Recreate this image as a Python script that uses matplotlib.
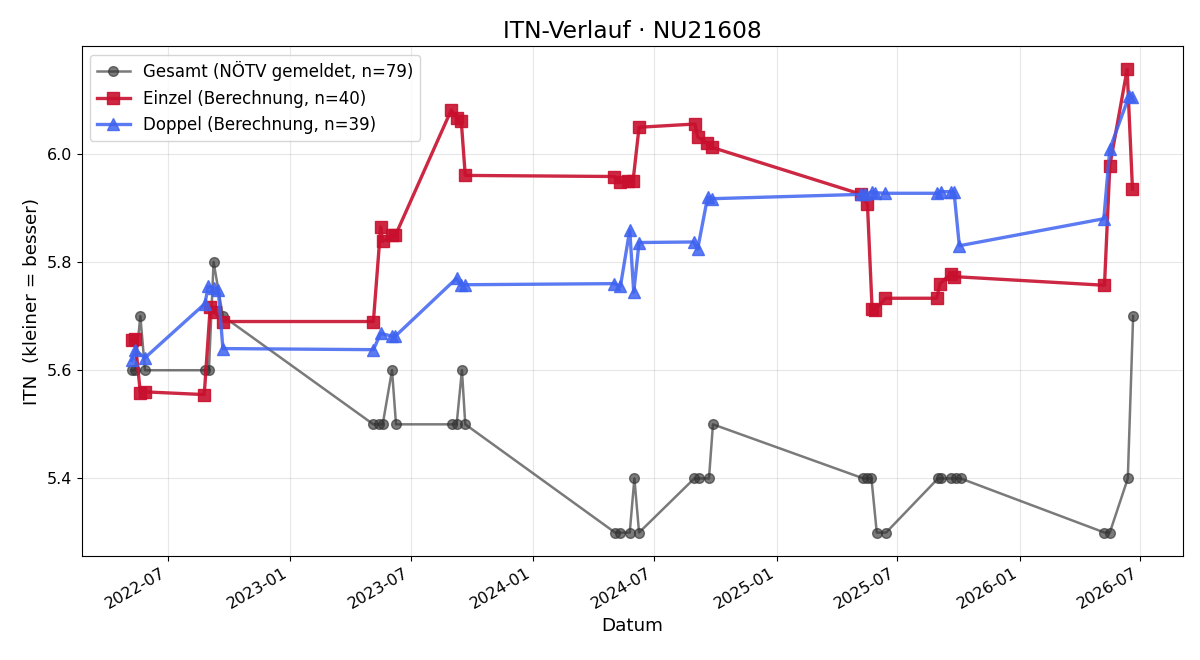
import matplotlib
matplotlib.use('Agg')
import matplotlib.pyplot as plt
import matplotlib.dates as mdates
import pandas as pd

# Gesamt (NÖTV gemeldet)
gesamt_dates = [
    '2022-05-08', '2022-05-13', '2022-05-21', '2022-05-28',
    '2022-08-26', '2022-09-01', '2022-09-08', '2022-09-22',
    '2023-05-06', '2023-05-15', '2023-05-20', '2023-06-03', '2023-06-09',
    '2023-09-01', '2023-09-08', '2023-09-16', '2023-09-21',
    '2024-05-03', '2024-05-11', '2024-05-25', '2024-06-01', '2024-06-08',
    '2024-08-30', '2024-09-06', '2024-09-21', '2024-09-27',
    '2025-05-11', '2025-05-17', '2025-05-23', '2025-05-31', '2025-06-14',
    '2025-08-31', '2025-09-05', '2025-09-20', '2025-09-27', '2025-10-04',
    '2026-05-08', '2026-05-16', '2026-06-12', '2026-06-20',
]
gesamt_itn = [
    5.6, 5.6, 5.7, 5.6,
    5.6, 5.6, 5.8, 5.7,
    5.5, 5.5, 5.5, 5.6, 5.5,
    5.5, 5.5, 5.6, 5.5,
    5.3, 5.3, 5.3, 5.4, 5.3,
    5.4, 5.4, 5.4, 5.5,
    5.4, 5.4, 5.4, 5.3, 5.3,
    5.4, 5.4, 5.4, 5.4, 5.4,
    5.3, 5.3, 5.4, 5.7,
]

# Einzel (Berechnung)
einzel_dates = [
    '2022-05-08', '2022-05-13', '2022-05-21', '2022-05-28',
    '2022-08-25', '2022-09-03', '2022-09-10', '2022-09-22',
    '2023-05-06', '2023-05-17', '2023-05-20', '2023-06-03', '2023-06-08',
    '2023-08-31', '2023-09-08', '2023-09-15', '2023-09-21',
    '2024-05-02', '2024-05-11', '2024-05-23', '2024-05-30', '2024-06-08',
    '2024-08-31', '2024-09-04', '2024-09-18', '2024-09-25',
    '2025-05-08', '2025-05-17', '2025-05-24', '2025-05-29', '2025-06-13',
    '2025-08-29', '2025-09-03', '2025-09-19', '2025-09-24',
    '2026-05-08', '2026-05-16', '2026-06-11', '2026-06-19',
]
einzel_itn = [
    5.655, 5.658, 5.558, 5.560,
    5.555, 5.717, 5.707, 5.690,
    5.690, 5.865, 5.838, 5.849, 5.849,
    6.081, 6.067, 6.060, 5.960,
    5.958, 5.947, 5.950, 5.950, 6.049,
    6.055, 6.031, 6.020, 6.012,
    5.925, 5.907, 5.713, 5.712, 5.733,
    5.733, 5.760, 5.778, 5.773,
    5.757, 5.978, 6.156, 5.935,
]

# Doppel (Berechnung)
doppel_dates = [
    '2022-05-08', '2022-05-13', '2022-05-28',
    '2022-08-26', '2022-08-31', '2022-09-08', '2022-09-15', '2022-09-22',
    '2023-05-06', '2023-05-17', '2023-06-03', '2023-06-08',
    '2023-09-08', '2023-09-14', '2023-09-21',
    '2024-05-02', '2024-05-11', '2024-05-25', '2024-05-31', '2024-06-08',
    '2024-08-29', '2024-09-04', '2024-09-19', '2024-09-26',
    '2025-05-08', '2025-05-14', '2025-05-24', '2025-05-29', '2025-06-13',
    '2025-08-29', '2025-09-04', '2025-09-19', '2025-09-24', '2025-10-02',
    '2026-05-07', '2026-05-16', '2026-06-14', '2026-06-19',
]
doppel_itn = [
    5.618, 5.637, 5.623,
    5.723, 5.755, 5.752, 5.749, 5.640,
    5.638, 5.668, 5.663, 5.663,
    5.770, 5.757, 5.758,
    5.760, 5.755, 5.859, 5.744, 5.836,
    5.837, 5.824, 5.920, 5.917,
    5.925, 5.925, 5.930, 5.928, 5.927,
    5.927, 5.930, 5.930, 5.930, 5.830,
    5.880, 6.009, 6.107, 6.105,
]

fig, ax = plt.subplots(figsize=(12, 6.6), dpi=100)

ax.plot(pd.to_datetime(gesamt_dates), gesamt_itn, marker='o', color='#333333',
        alpha=0.65, linewidth=1.8, markersize=7,
        label='Gesamt (NÖTV gemeldet, n=79)')
ax.plot(pd.to_datetime(einzel_dates), einzel_itn, marker='s', color='#c8102e',
        alpha=0.9, linewidth=2.4, markersize=8.4,
        label='Einzel (Berechnung, n=40)')
ax.plot(pd.to_datetime(doppel_dates), doppel_itn, marker='^', color='#3f63f0',
        alpha=0.85, linewidth=2.4, markersize=8.4,
        label='Doppel (Berechnung, n=39)')

ax.set_title('ITN-Verlauf · NU21608', fontsize=16.8)
ax.set_xlabel('Datum', fontsize=13.2)
ax.set_ylabel('ITN  (kleiner = besser)', fontsize=13.2)
ax.grid(True, alpha=0.3)
ax.legend(loc='upper left', fontsize=12)
ax.xaxis.set_major_locator(mdates.MonthLocator(bymonth=[1, 7]))
ax.xaxis.set_major_formatter(mdates.DateFormatter('%Y-%m'))
ax.tick_params(labelsize=11.5)
fig.autofmt_xdate()

fig.subplots_adjust(left=0.068, right=0.986, top=0.930, bottom=0.158)
plt.savefig('out.png')
plt.close()
